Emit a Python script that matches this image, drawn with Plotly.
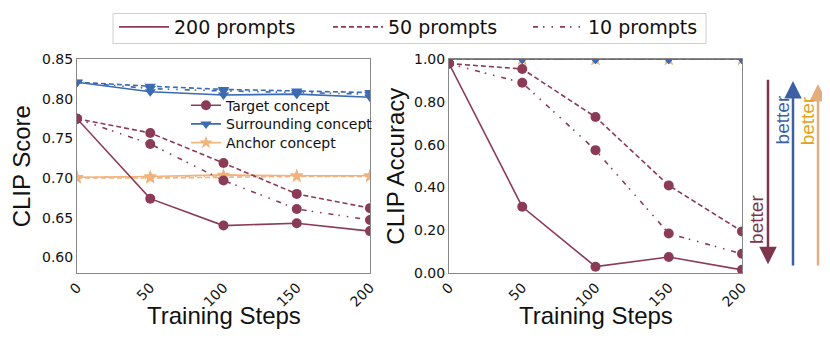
import plotly.graph_objects as go

# ---- data ----
steps = [0, 50, 100, 150, 200]

# CLIP score
score_target_200 = [0.775, 0.674, 0.640, 0.643, 0.633]
score_target_50 = [0.775, 0.757, 0.719, 0.680, 0.662]
score_target_10 = [0.775, 0.743, 0.697, 0.661, 0.647]
score_surround_200 = [0.821, 0.809, 0.805, 0.806, 0.802]
score_surround_50 = [0.821, 0.816, 0.812, 0.810, 0.808]
score_surround_10 = [0.821, 0.813, 0.810, 0.808, 0.806]
score_anchor_200 = [0.701, 0.702, 0.704, 0.703, 0.703]
score_anchor_50 = [0.700, 0.700, 0.701, 0.702, 0.702]
score_anchor_10 = [0.701, 0.701, 0.703, 0.703, 0.703]

# CLIP accuracy
acc_target_200 = [0.98, 0.31, 0.03, 0.075, 0.015]
acc_target_50 = [0.98, 0.955, 0.73, 0.41, 0.195]
acc_target_10 = [0.98, 0.89, 0.575, 0.185, 0.09]
acc_surround = [1.0, 1.0, 1.0, 1.0, 1.0]
acc_anchor = [1.0, 1.0, 1.0, 1.0, 1.0]

prompt_labels = ["200 prompts", "50 prompts", "10 prompts"]
concept_labels = ["Target concept", "Surrounding concept", "Anchor concept"]

MAROON = '#8c3b56'
BLUE = '#3b6bb2'
PEACH = '#f2b27c'
# solid / dashed / dash-dot-dot, roughly matplotlib's look
dashes = ['solid', '5px,3px', '5px,5px,1.5px,7px,1.5px,7px']
symbols = ['circle', 'triangle-down', 'star']
colors = [MAROON, BLUE, PEACH]

# the page body has an 8px margin, so the figure is a bit smaller
# and all hand placed things are shifted by 8px
OFF = 8
W, H = 830 - OFF, 344 - OFF
TICK_FONT = dict(family='DejaVu Sans', size=14, color='#111')
TITLE_FONT = dict(family='Liberation Sans', size=24, color='#111')


def px_x(v):
    return (v - OFF) / W


def px_y(v):
    return 1 - (v - OFF) / H


fig = go.Figure()


def add_line(x, y, color, symbol, dash, xa, ya):
    fig.add_trace(go.Scatter(
        x=x, y=y, mode='lines+markers',
        line=dict(color=color, width=1.6, dash=dash),
        marker=dict(symbol=symbol, size=10, color=color),
        xaxis=xa, yaxis=ya, showlegend=False, hoverinfo='skip',
    ))


# left panel
score_series = [
    (score_anchor_200, score_anchor_50, score_anchor_10),
    (score_target_200, score_target_50, score_target_10),
    (score_surround_200, score_surround_50, score_surround_10),
]
for series, c, s in zip(score_series, [PEACH, MAROON, BLUE], ['star', 'circle', 'triangle-down']):
    for y, d in zip(series, dashes):
        add_line(steps, y, c, s, d, 'x', 'y')

# right panel
for y, d in zip([acc_anchor] * 3, dashes):
    add_line(steps, y, PEACH, 'star', d, 'x2', 'y2')
for y, d in zip([acc_surround] * 3, dashes):
    add_line(steps, y, BLUE, 'triangle-down', d, 'x2', 'y2')
for y, d in zip([acc_target_200, acc_target_50, acc_target_10], dashes):
    add_line(steps, y, MAROON, 'circle', d, 'x2', 'y2')

# top legend: one small legend per entry so the columns sit where they should
prompt_legends = ['legend', 'legend3', 'legend4']
prompt_legend_x = [114, 328, 528]
for name, d, lg in zip(prompt_labels, dashes, prompt_legends):
    fig.add_trace(go.Scatter(
        x=[None], y=[None], mode='lines', name=name,
        line=dict(color=MAROON, width=1.8, dash=d), legend=lg,
    ))

# concept legend inside the left panel, one row per legend as well
concept_legends = ['legend2', 'legend5', 'legend6']
concept_legend_y = [102, 121, 140]
for name, c, s, lg in zip(concept_labels, colors, symbols, concept_legends):
    fig.add_trace(go.Scatter(
        x=[None], y=[None], mode='lines+markers', name=name,
        line=dict(color=c, width=1.6), marker=dict(symbol=s, size=10, color=c),
        legend=lg,
    ))

axis_common = dict(
    showgrid=False, zeroline=False, showline=True, mirror=True,
    linecolor='#888', linewidth=1, ticks='', tickfont=TICK_FONT,
    automargin=False,
)

legend_font = dict(family='DejaVu Sans', size=19, color='#111')
legend_layout = {
    lg: dict(x=px_x(x), y=px_y(22), xanchor='left', yanchor='middle',
             bgcolor='rgba(0,0,0,0)', borderwidth=0, itemwidth=50, font=legend_font)
    for lg, x in zip(prompt_legends, prompt_legend_x)
}
for lg, y in zip(concept_legends, concept_legend_y):
    legend_layout[lg] = dict(x=px_x(186), y=px_y(y), xanchor='left', yanchor='middle',
                             bgcolor='rgba(0,0,0,0)', borderwidth=0,
                             font=dict(family='DejaVu Sans', size=14, color='#111'))

fig.update_layout(
    width=W, height=H,
    margin=dict(l=0, r=0, t=0, b=0),
    plot_bgcolor='white', paper_bgcolor='white',
    xaxis=dict(domain=[px_x(77), px_x(370)], range=[0, 200], anchor='y',
               tickvals=steps, tickangle=-45, **axis_common),
    yaxis=dict(domain=[px_y(272), px_y(55)], range=[0.58, 0.85], anchor='x',
               tickvals=[0.60, 0.65, 0.70, 0.75, 0.80, 0.85], tickformat='.2f',
               title=dict(text='CLIP Score', font=TITLE_FONT, standoff=8),
               **axis_common),
    xaxis2=dict(domain=[px_x(449), px_x(742)], range=[0, 200], anchor='y2',
                tickvals=steps, tickangle=-45, **axis_common),
    yaxis2=dict(domain=[px_y(272), px_y(55)], range=[0, 1.0], anchor='x2',
                tickvals=[0, 0.2, 0.4, 0.6, 0.8, 1.0], tickformat='.2f',
                title=dict(text='CLIP Accuracy', font=TITLE_FONT, standoff=2),
                **axis_common),
    **legend_layout,
)

# frame around the top legend
fig.add_shape(type='rect', xref='paper', yref='paper',
              x0=px_x(113), x1=px_x(706), y0=px_y(39), y1=px_y(8.5),
              line=dict(color='#cfcfcf', width=1), fillcolor='rgba(0,0,0,0)',
              layer='below')

# x axis titles
for xc in [(77 + 370) / 2, (449 + 742) / 2]:
    fig.add_annotation(x=px_x(xc), y=px_y(315), xref='paper', yref='paper',
                       text='Training Steps', showarrow=False,
                       xanchor='center', yanchor='middle', font=TITLE_FONT)

# "better" arrows on the right
arrows = [
    (768, 263, -186, '#7c3549'),
    (793, 77, 186, '#3e5fa3'),
    (818, 80, 183, '#e2ae7f'),
]
for x, y, ay, c in arrows:
    fig.add_annotation(x=px_x(x), y=px_y(y), xref='paper', yref='paper',
                       ax=0, ay=ay, showarrow=True, arrowhead=2, arrowsize=1.4,
                       arrowwidth=2.5, arrowcolor=c, text='')

better_labels = [
    (757, 218, '#7c3549'),
    (782, 117, '#3e5fa3'),
    (807, 118, '#e6a11c'),
]
for x, y, c in better_labels:
    fig.add_annotation(x=px_x(x), y=px_y(y), xref='paper', yref='paper',
                       text='better', showarrow=False, textangle=-90,
                       xanchor='center', yanchor='middle',
                       font=dict(family='Liberation Sans', size=19, color=c))

fig.write_html("out.html")
